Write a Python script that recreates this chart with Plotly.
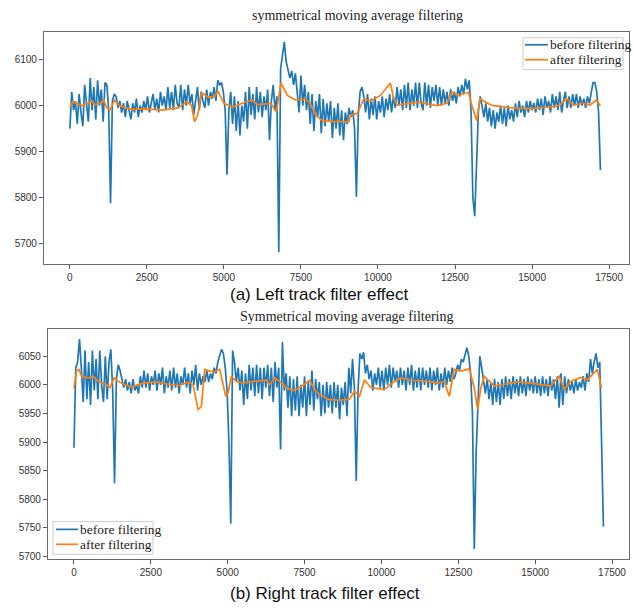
import plotly.graph_objects as go

# ---------------- data ----------------
STEP = 60  # sample spacing along the track
top_before = [
    5950, 6030, 5990, 6010, 5960, 6025, 5985, 5955, 6045, 6000, 5965, 6060, 5990, 6040, 5970, 6055, 6000, 6035, 5965, 6050,
    6045, 5990, 5788, 6010, 6025, 6020, 5995, 6010, 5985, 6005, 5975, 6010, 5990, 5970, 6005, 5985, 6015, 5975, 6000, 5985,
    6010, 5990, 6020, 5985, 6005, 6025, 5990, 6015, 5985, 6030, 6000, 6020, 5990, 6040, 5995, 6030, 5990, 6045, 6005, 5995,
    6045, 5990, 6035, 6000, 6045, 6005, 6025, 5980, 6010, 6040, 5990, 6030, 6010, 5995, 6035, 6000, 6030, 6015, 6040, 6010,
    6055, 6045, 6050, 6030, 5990, 5850, 5990, 6030, 5960, 6020, 5945, 6010, 5935, 6000, 5965, 6030, 5950, 6040, 5980, 6025,
    5970, 6040, 5985, 6030, 5975, 6020, 5990, 6035, 5925, 6010, 6045, 5990, 6020, 5682, 6080, 6110, 6138, 6095, 6080, 6060,
    6075, 6045, 6070, 6030, 5985, 6065, 6000, 6045, 5990, 6030, 5960, 6025, 5945, 6010, 5975, 6025, 5940, 6015, 5955, 6005,
    5965, 6010, 5930, 5995, 5950, 6005, 5935, 5990, 5925, 5985, 5960, 5995, 5975, 5990, 5950, 5802, 5980, 6030, 6040, 6020,
    5985, 6025, 5970, 6015, 5980, 6020, 5970, 6010, 5985, 6020, 5975, 6015, 5990, 6025, 5985, 6020, 5995, 6040, 6000, 6035,
    5990, 6045, 5995, 6050, 5990, 6035, 6000, 6050, 5995, 6050, 6005, 5990, 6050, 6000, 6045, 5995, 6040, 6010, 6045, 6000,
    6040, 6000, 6035, 6005, 6030, 6000, 6035, 6010, 6030, 6005, 6040, 6020, 6045, 6025, 6058, 6035, 6055, 5990, 5800, 5760,
    5900, 5990, 6020, 6000, 5975, 6005, 5965, 5995, 5955, 5990, 5950, 5985, 5965, 6000, 5960, 5995, 5955, 6000, 5970, 5990,
    5965, 6005, 5975, 6010, 5985, 6000, 5975, 6010, 5985, 6010, 5990, 6005, 5985, 6015, 5990, 6015, 5980, 6020, 5995, 6010,
    5985, 6025, 5995, 6020, 5990, 6030, 5985, 6010, 6030, 5995, 6020, 5995, 6025, 6000, 6025, 5995, 6020, 6000, 6015, 5995,
    6020, 6005, 6030, 6050, 6050, 6030, 5985, 5860,
]
top_after_x = [
    0, 100, 200, 400, 600, 700, 800, 1000, 1100, 1200, 1300, 1450, 1600, 1800,
    2000, 2500, 3000, 3500, 3800, 3950, 4050, 4150, 4270, 4500, 4700, 4800, 5000,
    5280, 5600, 5930, 6090, 6520, 6700, 6850, 7060, 7330, 7650, 7800, 7980, 8200,
    8600, 9060, 9110, 9330, 9540, 9760, 10080, 10300, 10400, 10510, 10620, 10830,
    11370, 11700, 11910, 12240, 12400, 12610, 12940, 13044, 13205, 13313, 13583,
    13745, 14068, 14500, 15040, 15580, 15900, 16117, 16333, 16656, 16872, 17088,
    17217,
]
top_after_y = [
    5995, 6010, 6005, 6000, 6005, 6010, 6002, 6005, 6012, 5995, 5990, 6012, 6000,
    5995, 5992, 5993, 5990, 5995, 6008, 6000, 5965, 5980, 6028, 6018, 6020, 6032,
    6005, 5997, 6005, 6012, 6002, 6005, 5986, 6049, 6022, 6012, 6014, 6005, 5979,
    5967, 5965, 5965, 5979, 5983, 6015, 6010, 6022, 6040, 6049, 6015, 6001, 6003,
    6008, 6002, 6000, 6005, 6029, 6022, 6029, 6001, 5967, 6015, 6004, 6000, 5997,
    5994, 5994, 5997, 6001, 6015, 6001, 6005, 6001, 6012, 5999,
]

bot_before = [
    5890, 6030, 6040, 6080, 6030, 5970, 6060, 5975, 6040, 5965, 6060, 5990, 6045, 5975, 6060, 6000, 5970, 6050, 5975, 6040,
    6062, 5990, 5828, 6010, 6035, 6025, 6010, 5995, 6010, 5990, 6005, 5985, 6010, 5990, 6000, 5985, 6015, 5995, 6025, 5995,
    6020, 5990, 6015, 6000, 6025, 5990, 6020, 6000, 6030, 5985, 6015, 5995, 6025, 5990, 6030, 5995, 6020, 5985, 6015, 6000,
    6030, 5995, 6020, 5985, 6025, 6000, 6035, 5990, 6020, 6000, 6015, 6005, 6025, 6005, 6020, 6010, 6030, 6020, 6040, 6050,
    6062, 6055, 6030, 5990, 5900, 5757, 6060, 6040, 6005, 6030, 5990, 6025, 5965, 6020, 5975, 6035, 5990, 6030, 5980, 6035,
    5985, 6030, 5975, 6030, 5995, 6035, 5980, 6030, 5970, 6040, 5995, 6030, 5887, 6075, 5990, 6020, 5960, 6015, 5945, 6010,
    5955, 6015, 5945, 6000, 5960, 6015, 5945, 6005, 5965, 6025, 5955, 6010, 5975, 6005, 5945, 6000, 5950, 6005, 5960, 6000,
    5950, 6005, 5960, 6000, 5940, 5995, 5965, 6005, 5945, 6030, 5985, 6045, 5995, 5832, 5990, 6055, 6045, 6057, 6020, 6035,
    6010, 6025, 5990, 6020, 6000, 6030, 5995, 6025, 5990, 6030, 6000, 6035, 5995, 6030, 6005, 6025, 5995, 6030, 6000, 6025,
    5990, 6030, 6000, 6035, 5990, 6025, 5995, 6030, 5990, 6030, 6000, 6025, 5995, 6030, 5990, 6025, 6000, 6030, 5990, 6020,
    5995, 6030, 6000, 6025, 6005, 6030, 6010, 6020, 6035, 6025, 6045, 6040, 6055, 6065, 6050, 6020, 5950, 5713, 5880, 5960,
    6050, 6030, 6005, 5985, 6010, 5975, 6005, 5965, 6010, 5970, 6005, 5965, 6010, 5975, 6015, 5980, 6010, 5975, 6015, 5985,
    6010, 5980, 6015, 5985, 6010, 5980, 6015, 5990, 6010, 5985, 6015, 5985, 6010, 5980, 6015, 5985, 6010, 5980, 6015, 5990,
    6010, 5975, 6015, 5960, 6020, 5965, 6015, 5985, 6010, 5990, 6005, 5985, 6010, 5990, 6005, 5995, 6015, 5990, 6020, 6005,
    6045, 6020, 6040, 6055, 6030, 6040, 5900, 5752,
]
bot_after_x = [
    0, 87, 162, 249, 465, 628, 790, 952, 1060, 1169, 1309, 1439, 1656, 1872, 2197,
    2630, 2955, 3387, 3712, 3874, 4037, 4145, 4253, 4416, 4578, 4740, 4828, 4935,
    5011, 5119, 5281, 5498, 5823, 6256, 6364, 6526, 6688, 6905, 7121, 7338, 7662,
    7825, 7987, 8312, 8636, 8961, 9124, 9286, 9448, 9665, 10098, 10422, 10639,
    10963, 11504, 11829, 12045, 12208, 12370, 12587, 12857, 13019, 13128, 13236,
    13344, 13506, 13669, 13994, 14426, 14968, 15509, 15780, 15942, 16159, 16483,
    16700, 16808, 17023, 17154,
]
bot_after_y = [
    5994, 6024, 6027, 6015, 6012, 6015, 6006, 6003, 6000, 5995, 6012, 6006, 6000,
    5996, 6002, 6005, 6002, 5998, 6005, 6000, 5957, 5962, 6027, 6024, 6023, 6027,
    6006, 5980, 5986, 6015, 6006, 6003, 6006, 6008, 6000, 6012, 6006, 5995, 5990,
    5995, 6008, 5992, 5983, 5974, 5973, 5975, 5989, 5980, 6009, 5995, 5992, 6006,
    6012, 6008, 6006, 6003, 6006, 5980, 6027, 6024, 6028, 5995, 5957, 5995, 6015,
    6006, 5998, 6001, 6005, 6002, 5998, 6015, 5992, 6006, 6013, 6009, 6015, 6027,
    5995,
]

top_x = [i * STEP for i in range(len(top_before))]
bot_x = [i * STEP for i in range(len(bot_before))]

x_ticks = [0, 2500, 5000, 7500, 10000, 12500, 15000, 17500]
x_ticklabels = ["0", "2500", "5000", "7500", "10000", "12500", "15000", "17500"]
top_yticks = [5700, 5800, 5900, 6000, 6100]
bot_yticks = [5700, 5750, 5800, 5850, 5900, 5950, 6000, 6050]

titles = ["symmetrical moving average filtering", "Symmetrical moving average filtering"]
captions = ["(a) Left track filter effect", "(b) Right track filter effect"]
series_names = ["before filtering", "after filtering"]

BLUE = "#1f77b4"
ORANGE = "#ff7f0e"
SERIF = "Liberation Serif, Times New Roman, serif"
SANS = "Liberation Sans, Arial, sans-serif"

W, H = 634, 608

fig = go.Figure()
fig.add_trace(go.Scatter(x=top_x, y=top_before, mode="lines", name=series_names[0],
                         line=dict(color=BLUE, width=1.7), xaxis="x", yaxis="y", showlegend=False))
fig.add_trace(go.Scatter(x=top_after_x, y=top_after_y, mode="lines", name=series_names[1],
                         line=dict(color=ORANGE, width=1.7), xaxis="x", yaxis="y", showlegend=False))
fig.add_trace(go.Scatter(x=bot_x, y=bot_before, mode="lines", name=series_names[0],
                         line=dict(color=BLUE, width=1.7), xaxis="x2", yaxis="y2", showlegend=False))
fig.add_trace(go.Scatter(x=bot_after_x, y=bot_after_y, mode="lines", name=series_names[1],
                         line=dict(color=ORANGE, width=1.7), xaxis="x2", yaxis="y2", showlegend=False))


def px_x(p):
    return p / W


def px_y(p):
    return 1 - p / H


axis_common = dict(showline=True, mirror=True, linecolor="#6a6a6a", linewidth=1.2,
                   showgrid=False, zeroline=False, ticks="outside", ticklen=4,
                   tickcolor="#555", tickwidth=1,
                   tickfont=dict(family=SANS, size=10, color="#333"))

fig.update_layout(
    width=W, height=H,
    margin=dict(l=0, r=0, t=0, b=0),
    paper_bgcolor="white", plot_bgcolor="white",
    showlegend=False,
    xaxis=dict(domain=[px_x(44), px_x(629)], anchor="y", range=[-840, 18147],
               tickvals=x_ticks, ticktext=x_ticklabels, **axis_common),
    yaxis=dict(domain=[px_y(265), px_y(32)], anchor="x", range=[5657, 6160],
               tickvals=top_yticks, **axis_common),
    xaxis2=dict(domain=[px_x(48), px_x(629)], anchor="y2", range=[-844, 18052],
                tickvals=x_ticks, ticktext=x_ticklabels, **axis_common),
    yaxis2=dict(domain=[px_y(562), px_y(331)], anchor="x2", range=[5695, 6097],
                tickvals=bot_yticks, **axis_common),
)

# titles and captions
annots = [
    dict(text=titles[0], x=px_x(357), y=px_y(16), font=dict(family=SERIF, size=14, color="#222")),
    dict(text=titles[1], x=px_x(346), y=px_y(318), font=dict(family=SERIF, size=14, color="#222")),
    dict(text=captions[0], x=px_x(319), y=px_y(296), font=dict(family=SANS, size=17, color="#111")),
    dict(text=captions[1], x=px_x(325), y=px_y(596), font=dict(family=SANS, size=17, color="#111")),
]
for a in annots:
    fig.add_annotation(xref="paper", yref="paper", xanchor="center", yanchor="middle",
                       showarrow=False, **a)

# legends (matplotlib-style boxes)
legend_boxes = [
    dict(x0=523, x1=623, y0=38, y1=70, rows=[45, 60], line_x=(525, 548), text_x=548),
    dict(x0=53, x1=153, y0=524, y1=557, rows=[532, 547], line_x=(56, 78), text_x=78),
]
for lb in legend_boxes:
    fig.add_shape(type="rect", xref="paper", yref="paper",
                  x0=px_x(lb["x0"]), x1=px_x(lb["x1"]), y0=px_y(lb["y1"]), y1=px_y(lb["y0"]),
                  line=dict(color="#cccccc", width=1), fillcolor="rgba(255,255,255,0.85)", layer="above")
    for row, name, col in zip(lb["rows"], series_names, [BLUE, ORANGE]):
        fig.add_shape(type="line", xref="paper", yref="paper",
                      x0=px_x(lb["line_x"][0]), x1=px_x(lb["line_x"][1]),
                      y0=px_y(row), y1=px_y(row), line=dict(color=col, width=1.7), layer="above")
        fig.add_annotation(xref="paper", yref="paper", x=px_x(lb["text_x"]), y=px_y(row),
                           xanchor="left", yanchor="middle", showarrow=False, text=name,
                           font=dict(family=SERIF, size=13.5, color="#222"))

# remove the default page margin so the figure fills the window exactly; no mode bar
fig.write_html("out.html",
               config={"displayModeBar": False},
               post_script="document.body.style.margin='0';document.body.style.overflow='hidden';")
